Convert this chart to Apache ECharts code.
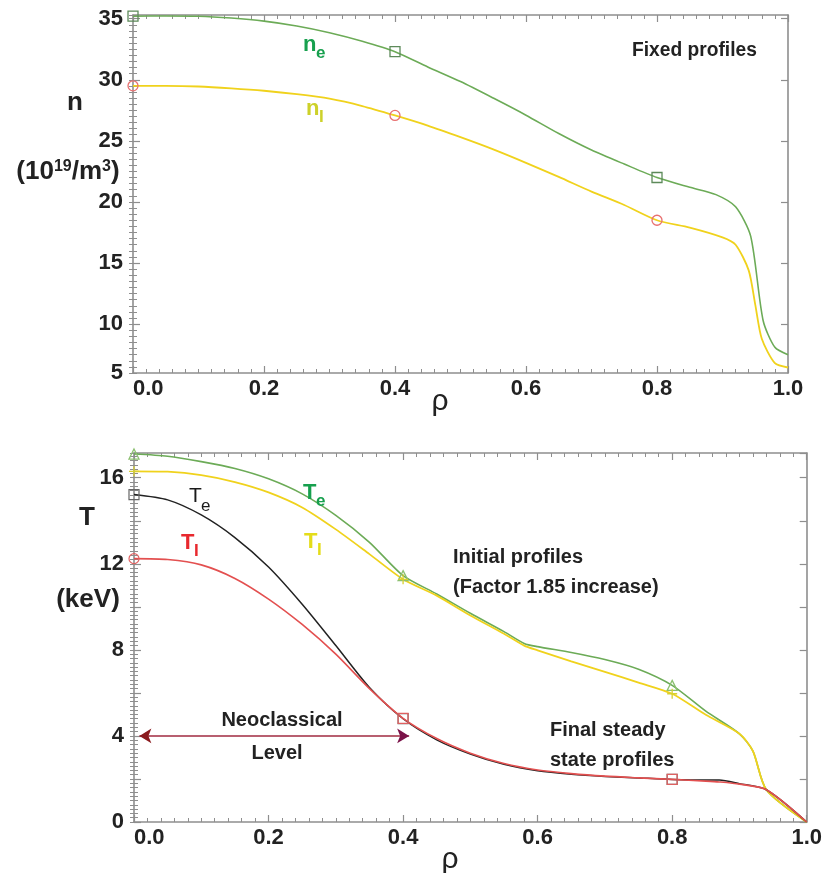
<!DOCTYPE html>
<html>
<head>
<meta charset="utf-8">
<script src="https://cdn.jsdelivr.net/npm/echarts@6/dist/echarts.min.js"></script>
<style>
html,body{margin:0;padding:0;background:#fff;}
#chart{width:825px;height:873px;}
</style>
</head>
<body>
<div id="chart"></div>
<script>
// ---- density profiles (10^19 / m^3) vs normalized radius rho ----
const neRho  = [0, 0.05, 0.1, 0.15, 0.2, 0.25, 0.3, 0.35, 0.4, 0.45, 0.5, 0.55, 0.6, 0.65, 0.7, 0.75, 0.8, 0.85, 0.89, 0.92, 0.943, 0.962, 0.98, 1.0];
const neVals = [35.2, 35.22, 35.2, 35.05, 34.8, 34.4, 33.85, 33.15, 32.3, 31.05, 29.85, 28.5, 27.1, 25.6, 24.25, 23.1, 22.0, 21.2, 20.6, 19.6, 17.2, 10.3, 8.1, 7.5];
const niRho  = [0, 0.05, 0.1, 0.15, 0.2, 0.25, 0.3, 0.35, 0.4, 0.45, 0.5, 0.55, 0.6, 0.65, 0.7, 0.75, 0.8, 0.85, 0.9, 0.92, 0.94, 0.95, 0.96, 0.98, 1.0];
const niVals = [29.5, 29.5, 29.45, 29.3, 29.1, 28.82, 28.45, 27.85, 27.08, 26.25, 25.3, 24.3, 23.2, 22.05, 20.85, 19.75, 18.5, 17.9, 17.1, 16.5, 14.4, 11.6, 8.8, 6.8, 6.45];

// ---- temperature profiles (keV) vs rho ----
const initRho = [0, 0.05, 0.1, 0.15, 0.2, 0.25, 0.3, 0.35, 0.4, 0.45, 0.5, 0.55, 0.58, 0.6, 0.65, 0.7, 0.75, 0.8, 0.85, 0.9, 0.92, 0.94, 1.0];
const teInit  = [17.1, 17.0, 16.75, 16.43, 15.95, 15.25, 14.25, 13.0, 11.45, 10.6, 9.7, 8.85, 8.3, 8.15, 7.88, 7.55, 7.1, 6.35, 5.15, 4.1, 3.3, 1.5, 0];
const tiInit  = [16.3, 16.28, 16.12, 15.8, 15.32, 14.62, 13.6, 12.45, 11.28, 10.52, 9.6, 8.75, 8.2, 7.98, 7.47, 6.98, 6.48, 5.96, 4.98, 4.1, 3.3, 1.5, 0];
const finalRho = [0, 0.05, 0.1, 0.15, 0.2, 0.25, 0.3, 0.35, 0.4, 0.45, 0.5, 0.55, 0.6, 0.65, 0.7, 0.75, 0.8, 0.85, 0.87, 0.9, 0.94, 1.0];
const teFinal  = [15.22, 14.97, 14.27, 13.22, 11.85, 10.12, 8.2, 6.25, 4.8, 3.82, 3.16, 2.68, 2.38, 2.22, 2.12, 2.05, 1.98, 1.95, 1.95, 1.78, 1.5, 0];
const tiFinal  = [12.24, 12.2, 11.95, 11.32, 10.36, 9.18, 7.8, 6.2, 4.82, 3.88, 3.2, 2.72, 2.42, 2.25, 2.13, 2.05, 1.98, 1.9, 1.86, 1.76, 1.5, 0];

// rho positions where plot symbols are placed
const markerRho = [0, 0.4, 0.8];

// neoclassical level arrow (rho span, keV level)
const arrowRho = [0.008, 0.409];
const arrowLevel = 4;

// axis ticks
const rhoTickStep = 0.2;
const nTickValues = [10, 15, 20, 25, 30, 35];
const nRange = [6, 35.3];
const nBottomLabel = '5';
const tRange = [0, 17.15];
const tTickStep = 2;

const FONT = '"Liberation Sans", Arial, Helvetica, sans-serif';
const AXIS_GRAY = '#8e8e8e';
const GREEN = '#6cab57';
const YELLOW = '#f0d21c';
const RED = '#e35050';
const BLACK = '#222222';

const chart = echarts.init(document.getElementById('chart'), null, { renderer: 'canvas' });

function lineData(rho, vals, symbolFor) {
  return rho.map((r, i) => ({
    value: [r, vals[i]],
    symbol: markerRho.indexOf(r) >= 0 ? symbolFor(r) : 'none'
  }));
}

function xAxisDef(gridIndex, position, withLabels) {
  return {
    type: 'value', gridIndex, position, min: 0, max: 1, interval: rhoTickStep,
    axisLine: { show: true, onZero: false, lineStyle: { color: AXIS_GRAY, width: 1.6 } },
    axisTick: { show: true, inside: true, length: 7, lineStyle: { color: AXIS_GRAY, width: 1.2 } },
    minorTick: { show: true, splitNumber: 10, length: 4, lineStyle: { color: AXIS_GRAY, width: 1 } },
    splitLine: { show: false },
    axisLabel: withLabels ? {
      show: true, margin: 5, color: '#222', fontSize: 22, fontWeight: 'bold', fontFamily: FONT,
      formatter: v => v.toFixed(1), alignMinLabel: 'left'
    } : { show: false }
  };
}

function yMinor(gridIndex, position, range, step) {
  return {
    type: 'value', gridIndex, position, min: range[0], max: range[1], interval: step,
    axisLine: { show: false },
    axisTick: { show: true, inside: true, length: 4, lineStyle: { color: AXIS_GRAY, width: 1 } },
    axisLabel: { show: false }, splitLine: { show: false }
  };
}

const yAxes = [
  // 0: density, left, labelled
  {
    type: 'value', gridIndex: 0, position: 'left', min: nRange[0], max: nRange[1],
    axisLine: { show: true, onZero: false, lineStyle: { color: AXIS_GRAY, width: 1.6 } },
    axisTick: { show: true, inside: true, length: 7, customValues: nTickValues, lineStyle: { color: AXIS_GRAY, width: 1.2 } },
    axisLabel: {
      show: true, margin: 10, color: '#222', fontSize: 22, fontWeight: 'bold', fontFamily: FONT,
      customValues: [nRange[0]].concat(nTickValues),
      formatter: v => (v === nRange[0] ? nBottomLabel : String(v))
    },
    splitLine: { show: false }
  },
  yMinor(0, 'left', nRange, 0.5),
  // 2: density, right frame
  {
    type: 'value', gridIndex: 0, position: 'right', min: nRange[0], max: nRange[1],
    axisLine: { show: true, onZero: false, lineStyle: { color: AXIS_GRAY, width: 1.6 } },
    axisTick: { show: true, inside: true, length: 7, customValues: nTickValues, lineStyle: { color: AXIS_GRAY, width: 1.2 } },
    axisLabel: { show: false }, splitLine: { show: false }
  },
  yMinor(0, 'right', nRange, 0.5),
  // 4: temperature, left, labelled
  {
    type: 'value', gridIndex: 1, position: 'left', min: tRange[0], max: tRange[1], interval: tTickStep,
    axisLine: { show: true, onZero: false, lineStyle: { color: AXIS_GRAY, width: 1.6 } },
    axisTick: { show: true, inside: true, length: 7, lineStyle: { color: AXIS_GRAY, width: 1.2 } },
    axisLabel: {
      show: true, margin: 10, color: '#222', fontSize: 22, fontWeight: 'bold', fontFamily: FONT,
      showMaxLabel: false,
      formatter: v => (Math.abs(v % 4) < 1e-9 ? String(v) : '')
    },
    splitLine: { show: false }
  },
  yMinor(1, 'left', tRange, 0.2),
  // 6: temperature, right frame
  {
    type: 'value', gridIndex: 1, position: 'right', min: tRange[0], max: tRange[1], interval: tTickStep,
    axisLine: { show: true, onZero: false, lineStyle: { color: AXIS_GRAY, width: 1.6 } },
    axisTick: { show: true, inside: true, length: 7, lineStyle: { color: AXIS_GRAY, width: 1.2 } },
    axisLabel: { show: false }, splitLine: { show: false }
  },
  yMinor(1, 'right', tRange, 0.2)
];

function lineSeries(opts) {
  return Object.assign({
    type: 'line', silent: true, animation: false,
    smooth: 0.25,
    showSymbol: true, showAllSymbol: true, symbolSize: 10, z: 3
  }, opts);
}

const plusPath = 'path://M5,0L5,10M0,5L10,5';

const series = [
  lineSeries({
    name: 'ne', xAxisIndex: 0, yAxisIndex: 0,
    data: lineData(neRho, neVals, () => 'rect'),
    lineStyle: { color: GREEN, width: 1.6 },
    itemStyle: { color: 'transparent', borderColor: '#5d8a5a', borderWidth: 1.3 }
  }),
  lineSeries({
    name: 'ni', xAxisIndex: 0, yAxisIndex: 0,
    data: lineData(niRho, niVals, () => 'circle'),
    lineStyle: { color: YELLOW, width: 1.8 },
    itemStyle: { color: 'transparent', borderColor: '#e87070', borderWidth: 1.3 }
  }),
  lineSeries({
    name: 'Te initial', xAxisIndex: 2, yAxisIndex: 4,
    data: lineData(initRho, teInit, () => 'triangle'),
    lineStyle: { color: GREEN, width: 1.6 },
    itemStyle: { color: 'transparent', borderColor: '#8cc070', borderWidth: 1.3 }
  }),
  lineSeries({
    name: 'Ti initial', xAxisIndex: 2, yAxisIndex: 4,
    data: lineData(initRho, tiInit, () => plusPath),
    lineStyle: { color: YELLOW, width: 1.8 },
    itemStyle: { color: 'transparent', borderColor: '#d8d030', borderWidth: 1.3 }
  }),
  lineSeries({
    name: 'Te final', xAxisIndex: 2, yAxisIndex: 4,
    data: lineData(finalRho, teFinal, () => 'rect'),
    lineStyle: { color: BLACK, width: 1.5 },
    itemStyle: { color: 'transparent', borderColor: '#666666', borderWidth: 1.2 }
  }),
  lineSeries({
    name: 'Ti final', xAxisIndex: 2, yAxisIndex: 4,
    data: lineData(finalRho, tiFinal, r => (r === 0 ? 'circle' : 'rect')),
    lineStyle: { color: RED, width: 1.6 },
    itemStyle: { color: 'transparent', borderColor: '#e06060', borderWidth: 1.2 }
  }),
  lineSeries({
    name: 'neoclassical level', xAxisIndex: 2, yAxisIndex: 4, z: 4, smooth: false,
    symbolSize: [11, 12],
    data: [
      { value: [arrowRho[0], arrowLevel], symbol: 'arrow', symbolRotate: 90, itemStyle: { color: '#8a1a1e' } },
      { value: [arrowRho[1], arrowLevel], symbol: 'arrow', symbolRotate: -90, itemStyle: { color: '#7a1248' } }
    ],
    lineStyle: { color: '#a02a40', width: 1.4 }
  })
];

function txt(x, y, text, o) {
  o = o || {};
  return {
    type: 'text', x, y, z: 10, silent: true,
    scaleX: o.scaleX || 1,
    style: {
      text, fill: o.color || '#222', fontSize: o.size || 20, fontWeight: o.weight || 'bold',
      fontFamily: FONT, align: o.align || 'left', verticalAlign: 'middle', rich: o.rich
    }
  };
}

const graphics = [
  // axis titles
  txt(75, 103, 'n', { size: 26, align: 'center' }),
  txt(68, 172, '(10{s|19}/m{s|3})', {
    size: 26, align: 'center',
    rich: { s: { fontSize: 16, fontWeight: 'bold', fontFamily: FONT, fill: '#222', verticalAlign: 'top' } }
  }),
  txt(440, 402, 'ρ', { size: 30, weight: 'normal', align: 'center' }),
  txt(87, 518, 'T', { size: 26, align: 'center' }),
  txt(88, 600, '(keV)', { size: 26, align: 'center' }),
  txt(450, 860, 'ρ', { size: 30, weight: 'normal', align: 'center' }),

  // curve labels
  txt(303, 45, 'n', { size: 22, color: '#17a04e' }),
  txt(316, 53, 'e', { size: 17, color: '#17a04e' }),
  txt(306, 109, 'n', { size: 22, color: '#cdd12a' }),
  txt(319, 117, 'I', { size: 17, color: '#cdd12a' }),
  txt(189, 496, 'T', { size: 21, weight: 'normal', color: '#1a1a1a' }),
  txt(201, 506, 'e', { size: 17, weight: 'normal', color: '#1a1a1a' }),
  txt(181, 543, 'T', { size: 22, color: '#e8282e' }),
  txt(194, 551, 'I', { size: 17, color: '#e8282e' }),
  txt(303, 493, 'T', { size: 22, color: '#17a04e' }),
  txt(316, 501, 'e', { size: 17, color: '#17a04e' }),
  txt(304, 542, 'T', { size: 22, color: '#e4dc1a' }),
  txt(317, 550, 'I', { size: 17, color: '#e4dc1a' }),

  // annotations
  txt(632, 50, 'Fixed profiles', { size: 20, scaleX: 0.96 }),
  txt(453, 557, 'Initial profiles', { size: 20 }),
  txt(453, 587, '(Factor 1.85 increase)', { size: 20 }),
  txt(550, 730, 'Final steady', { size: 20 }),
  txt(550, 760, 'state profiles', { size: 20 }),
  txt(282, 720, 'Neoclassical', { size: 20, align: 'center' }),
  txt(277, 753, 'Level', { size: 20, align: 'center' })
];

chart.setOption({
  backgroundColor: '#ffffff',
  animation: false,
  grid: [
    { left: 133, top: 15, width: 655, height: 358, containLabel: false },
    { left: 134, top: 453, width: 676, height: 369, containLabel: false }
  ],
  xAxis: [
    xAxisDef(0, 'bottom', true),
    xAxisDef(0, 'top', false),
    xAxisDef(1, 'bottom', true),
    xAxisDef(1, 'top', false)
  ],
  yAxis: yAxes,
  series,
  graphic: graphics
});
</script>
</body>
</html>
